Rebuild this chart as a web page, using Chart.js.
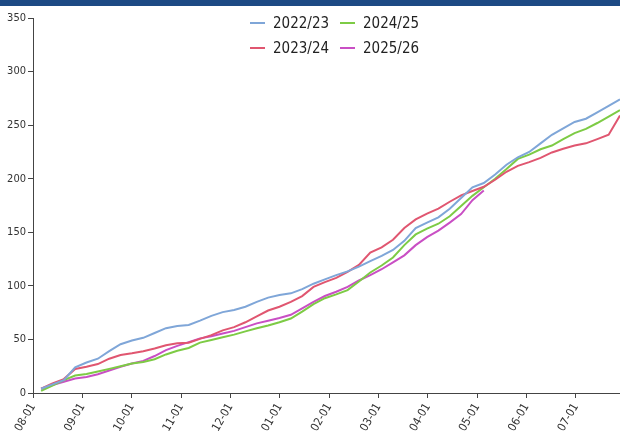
<!DOCTYPE html>
<html>
<head>
<meta charset="utf-8">
<script src="https://cdn.jsdelivr.net/npm/chart.js@4.4.1/dist/chart.umd.min.js"></script>
<style>
  body { margin: 0; background: #fff; }
  #wrap { position: relative; width: 620px; height: 436px; }
  #topbar { position: absolute; left: 0; top: 0; width: 620px; height: 6px; background: #1d4a84; }
</style>
</head>
<body>
<div id="wrap">
  <canvas id="mycanvas" width="620" height="436"></canvas>
  <div id="topbar"></div>
</div>
<script>
// month tick labels (season runs Aug -> Jul)
var monthLabels = ['08-01', '09-01', '10-01', '11-01', '12-01', '01-01',
                   '02-01', '03-01', '04-01', '05-01', '06-01', '07-01'];

// weekly observations, first one 5 days after 08-01
var firstDay = 5;
var seasonNames = ['2022/23', '2023/24', '2024/25', '2025/26'];

var s2022 = [4, 8, 12, 24, 28.5, 32, 39, 45.5, 49, 51.5, 56, 60.5, 62.5, 63.5, 67.5, 72, 75.5, 77.5,
             80.5, 85, 89, 91.5, 93, 97, 102, 106, 110, 113.5, 118, 123, 128, 133.5, 142, 154, 159,
             164, 172, 182, 192, 196, 204, 213, 220, 225, 233, 241, 247, 253, 256, 262, 268, 274];
var s2023 = [4, 9, 13, 22.5, 24.5, 27, 32, 35.5, 37, 39, 41.5, 44.5, 46.5, 47, 50.5, 54, 58.5, 61.5,
             66, 71.5, 77, 80.5, 85, 90.5, 99, 103.5, 107.5, 113, 119.5, 131, 136, 143, 154, 162, 167.5,
             172, 178.5, 184.5, 188.5, 192.5, 199, 206.5, 212, 215.5, 219.5, 224.5, 228, 231, 233, 237, 241, 259];
var s2024 = [2, 7, 12, 16.3, 17.7, 20, 22.5, 25, 27.5, 29, 31.5, 36, 39.5, 42, 47, 49.5, 52, 54.5,
             57.5, 60.5, 63, 66, 69.5, 76, 83, 88.5, 92, 96, 104, 112.5, 119, 126.5, 138, 148, 153.5,
             158, 165, 174.5, 184, 192, 200, 209, 218.5, 222.5, 227.5, 231, 237, 242.5, 246.5, 252, 258, 264];
var s2025 = [4, 7.5, 10.5, 13.5, 15, 17.5, 21, 24.5, 27.5, 30, 34.5, 40, 44, 47.5, 51, 53, 55.5, 58,
             61.5, 65, 67.5, 70, 73, 79, 85, 90.5, 94.5, 99, 105, 110, 115.5, 122, 128.5, 138, 145.5,
             151.5, 159, 167, 180, 189];

var seriesValues = [s2022, s2023, s2024, s2025];
var seriesColors = ['#7fa6d8', '#e05670', '#7dcb45', '#c94fc4'];

var daysPerMonth = 365.25 / 12;

function toPoints(vals) {
    var pts = [];
    for (var i = 0; i < vals.length; i++) {
        pts.push({ x: firstDay + i * 7, y: vals[i] });
    }
    return pts;
}

var fontFam = '"Liberation Sans Narrow", "DejaVu Sans Condensed", "Liberation Sans", sans-serif';

var datasets = [];
for (var i = 0; i < seasonNames.length; i++) {
    datasets.push({
        label: seasonNames[i],
        data: toPoints(seriesValues[i]),
        borderColor: seriesColors[i],
        backgroundColor: seriesColors[i],
        borderWidth: 2,
        pointRadius: 0,
        tension: 0,
        fill: false
    });
}

// 2 x 2 legend inside the plot, column-major like the original
var gridLegend = {
    id: 'gridLegend',
    afterDraw: function (chart) {
        var ctx = chart.ctx;
        var colX = [250, 340];
        var rowY = [23, 48];
        ctx.save();
        ctx.font = '15px ' + fontFam;
        ctx.textBaseline = 'middle';
        ctx.lineWidth = 2;
        chart.data.datasets.forEach(function (ds, i) {
            var x = colX[Math.floor(i / 2)];
            var y = rowY[i % 2];
            ctx.strokeStyle = ds.borderColor;
            ctx.beginPath();
            ctx.moveTo(x, y);
            ctx.lineTo(x + 15, y);
            ctx.stroke();
            ctx.fillStyle = '#222';
            ctx.fillText(ds.label, x + 23, y + 1);
        });
        ctx.restore();
    }
};

var ctx = document.getElementById('mycanvas');

var lineGraph = new Chart(ctx, {
    type: 'line',
    data: { datasets: datasets },
    options: {
        responsive: false,
        animation: false,
        layout: { padding: { top: 18, right: 0, bottom: 0, left: 0 } },
        plugins: {
            legend: { display: false },
            tooltip: { enabled: false }
        },
        scales: {
            x: {
                type: 'linear',
                min: 0,
                max: 362,
                afterBuildTicks: function (scale) {
                    scale.ticks = monthLabels.map(function (m, i) {
                        return { value: i * daysPerMonth };
                    });
                },
                afterFit: function (scale) { scale.height = 43; },
                ticks: {
                    autoSkip: false,
                    minRotation: 60,
                    maxRotation: 60,
                    padding: 3,
                    color: '#333',
                    font: { family: fontFam, size: 11.5 },
                    callback: function (value, index) { return monthLabels[index]; }
                },
                grid: { display: true, drawOnChartArea: false, drawTicks: true, tickLength: 5, color: '#444' },
                border: { display: true, color: '#444', width: 1 }
            },
            y: {
                min: 0,
                max: 350,
                afterFit: function (scale) { scale.width = 33; },
                ticks: {
                    stepSize: 50,
                    padding: 2,
                    color: '#333',
                    font: { family: fontFam, size: 11 }
                },
                grid: { display: true, drawOnChartArea: false, drawTicks: true, tickLength: 5, color: '#444' },
                border: { display: true, color: '#444', width: 1 }
            }
        }
    },
    plugins: [gridLegend]
});
</script>
</body>
</html>
